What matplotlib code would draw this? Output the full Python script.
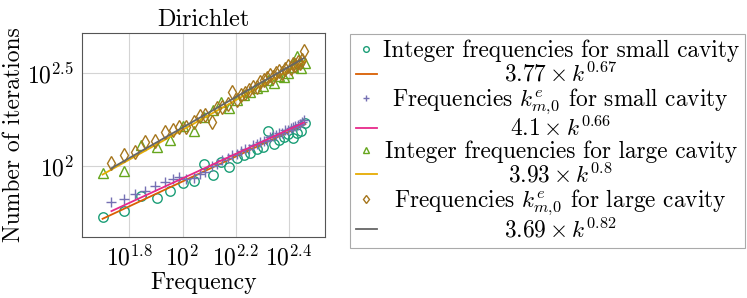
import numpy as np
import matplotlib
matplotlib.use("Agg")
from matplotlib import pyplot as plt
from matplotlib.ticker import FixedLocator, FixedFormatter, NullLocator

plt.rcParams['font.family'] = 'serif'
plt.rcParams['font.serif'] = ['cmr10']
plt.rcParams['mathtext.fontset'] = 'cm'
plt.rcParams['axes.formatter.use_mathtext'] = True

# integer frequencies
k_int = [50, 60, 70, 80, 90, 100, 110, 120, 130, 140, 150, 160, 170, 180, 190,
         200, 210, 220, 230, 240, 250, 260, 270, 280, 290]
it_small_int = [53, 57, 69, 67, 73, 81, 83, 103, 89, 105, 99, 111, 115, 118, 123,
                127, 155, 131, 138, 143, 148, 141, 150, 155, 170]
it_large_int = [92, 94, 129, 127, 138, 165, 155, 184, 200, 222, 205, 228, 240, 250, 262,
                270, 291, 280, 305, 303, 318, 340, 390, 336, 358]

# frequencies k^e_{m,0}
k_e = [54, 60, 66, 72, 79, 86, 92, 97, 103, 110, 116, 122, 129, 135, 141, 148, 154, 160,
       166, 172, 178, 184, 190, 196, 202, 208, 214, 219, 225, 231, 237, 243, 249, 255,
       260, 266, 272, 277, 282, 286]
it_small_e = [64, 66, 70.6, 73, 78, 82, 85, 87, 85, 86, 90, 93, 100, 103, 108, 111, 115, 116,
              121, 124, 124, 130, 131, 134, 137, 138, 143, 145, 146, 150, 151, 157, 156, 160,
              162, 164, 167, 169, 172, 176]
it_large_e = [104, 115, 119, 135, 137, 153, 156, 163, 163, 172, 185, 188, 173, 205, 208, 215,
              252, 228, 240, 248, 258, 268, 265, 283, 290, 298, 310, 302, 318, 325, 316, 335,
              345, 338, 355, 350, 365, 358, 372, 419]

# fitted power laws  a * k^b
fit_small_int = (3.77, 0.67)
fit_small_e = (4.1, 0.66)
fit_large_int = (3.93, 0.8)
fit_large_e = (3.69, 0.82)

labels = ["Integer frequencies for small cavity",
          r"$3.77\times k^{0.67}$",
          r"Frequencies $k^e_{m,\!0}$ for small cavity",
          r"$4.1\times k^{0.66}$",
          "Integer frequencies for large cavity",
          r"$3.93\times k^{0.8}$",
          r"Frequencies $k^e_{m,\!0}$ for large cavity",
          r"$3.69\times k^{0.82}$"]

c = plt.get_cmap('Dark2').colors

fig = plt.figure(figsize=(7.47, 2.98), dpi=100)
ax = fig.add_axes([0.110, 0.205, 0.325, 0.684])

def fit_line(k, ab):
    k = np.array(k, dtype=float)
    return ab[0] * k ** ab[1]

ms = 6.8
ax.plot(k_int, it_small_int, 'o', mfc='none', mec=c[0], ms=ms, mew=1.0, label=labels[0])
ax.plot(k_int, fit_line(k_int, fit_small_int), '-', color=c[1], lw=1.3, label=labels[1])
ax.plot(k_e, it_small_e, '+', color=c[2], ms=ms + 0.5, mew=1.0, label=labels[2])
ax.plot(k_e, fit_line(k_e, fit_small_e), '-', color=c[3], lw=1.3, label=labels[3])
ax.plot(k_int, it_large_int, '^', mfc='none', mec=c[4], ms=ms, mew=1.0, label=labels[4])
ax.plot(k_int, fit_line(k_int, fit_large_int), '-', color=c[5], lw=1.3, label=labels[5])
ax.plot(k_e, it_large_e, 'd', mfc='none', mec=c[6], ms=ms + 0.5, mew=1.0, label=labels[6])
ax.plot(k_e, fit_line(k_e, fit_large_e), '-', color=c[7], lw=1.3, label=labels[7])

ax.set_xscale('log')
ax.set_yscale('log')
ax.set_xlim(41.9, 343.6)
ax.set_ylim(41.4, 521)

xt = [1.8, 2.0, 2.2, 2.4]
yt = [2.0, 2.5]
ax.xaxis.set_major_locator(FixedLocator([10 ** v for v in xt]))
ax.xaxis.set_major_formatter(FixedFormatter([r"$10^{1.8}$", r"$10^{2}$", r"$10^{2.2}$", r"$10^{2.4}$"]))
ax.yaxis.set_major_locator(FixedLocator([10 ** v for v in yt]))
ax.yaxis.set_major_formatter(FixedFormatter([r"$10^{2}$", r"$10^{2.5}$"]))
ax.xaxis.set_minor_locator(NullLocator())
ax.yaxis.set_minor_locator(NullLocator())
ax.tick_params(length=0, labelsize=17, pad=6)
ax.grid(True, color='#d4d4d4', lw=0.8)
ax.set_axisbelow(True)
for s in ax.spines.values():
    s.set_color('#555555')
    s.set_linewidth(0.8)

ax.set_title("Dirichlet", fontsize=17.5, pad=5)
ax.set_xlabel("Frequency", fontsize=17, labelpad=1)
ax.set_ylabel("Number of iterations", fontsize=17, labelpad=1)

leg = fig.legend(loc='upper left', bbox_to_anchor=(0.4685, 0.886), fontsize=16.8,
                 frameon=True, fancybox=False, edgecolor='#aaaaaa', framealpha=1,
                 handlelength=0.9, handletextpad=0.25, labelspacing=-0.02,
                 borderpad=0.25, markerscale=0.6, borderaxespad=0)
leg.get_frame().set_linewidth(0.8)

# center the label texts like the reference
r = fig.canvas.get_renderer()
ws = [t.get_window_extent(r).width for t in leg.get_texts()]
for t, w in zip(leg.get_texts(), ws):
    t.set_x((max(ws) - w) / 2)

fig.savefig("out.png", dpi=100)
